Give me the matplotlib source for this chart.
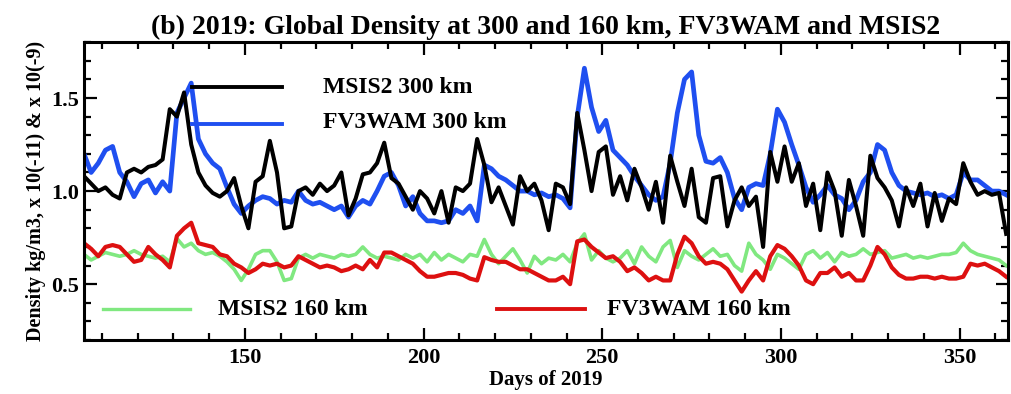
import numpy as np
import matplotlib
matplotlib.use('Agg')
import matplotlib.pyplot as plt
from matplotlib.ticker import MultipleLocator

# days sampled every 2 days
days = list(range(105, 364, 2))

msis_300 = [1.08, 1.04, 1.00, 1.02, 0.98, 0.96, 1.10, 1.12, 1.10, 1.13,
            1.14, 1.17, 1.44, 1.40, 1.53, 1.25, 1.10, 1.03, 0.99, 0.97,
            1.00, 1.07, 0.92, 0.80, 1.05, 1.08, 1.27, 1.10, 0.80, 0.81,
            1.00, 1.02, 0.98, 1.04, 1.00, 1.03, 1.10, 0.87, 0.96, 1.09,
            1.10, 1.15, 1.26, 1.07, 1.04, 0.97, 0.90, 1.00, 0.96, 0.88,
            1.00, 0.83, 1.02, 1.00, 1.04, 1.28, 1.14, 0.94, 1.02, 0.92,
            0.82, 1.08, 1.00, 1.04, 0.95, 0.79, 1.04, 1.02, 0.93, 1.42,
            1.22, 1.00, 1.21, 1.24, 0.98, 1.08, 0.95, 1.12, 1.02, 0.90,
            1.05, 0.83, 1.19, 1.05, 0.92, 1.12, 0.86, 0.83, 1.07, 1.08,
            0.81, 0.95, 1.02, 0.92, 0.97, 0.70, 1.21, 1.05, 1.24, 1.05,
            1.15, 0.92, 1.04, 0.79, 1.10, 1.00, 0.76, 1.06, 0.92, 0.76,
            1.19, 1.07, 1.02, 0.95, 0.81, 1.02, 0.92, 1.04, 0.81, 0.99,
            0.84, 0.96, 0.93, 1.15, 1.05, 0.98, 1.00, 0.98, 0.99, 0.77]

fv3_300 = [1.20, 1.10, 1.15, 1.22, 1.24, 1.10, 1.05, 0.97, 1.04, 1.06,
           0.99, 1.05, 1.00, 1.42, 1.50, 1.58, 1.28, 1.20, 1.15, 1.12,
           1.02, 0.93, 0.88, 0.92, 0.95, 0.97, 0.96, 0.93, 0.95, 0.94,
           1.00, 0.95, 0.93, 0.94, 0.92, 0.90, 0.92, 0.86, 0.92, 0.95,
           0.93, 1.00, 1.08, 1.10, 1.03, 0.92, 0.97, 0.88, 0.84, 0.84,
           0.83, 0.84, 0.90, 0.88, 0.92, 0.84, 1.14, 1.12, 1.08, 1.06,
           1.03, 1.00, 1.00, 0.98, 0.99, 0.97, 0.98, 0.96, 0.91, 1.40,
           1.66, 1.45, 1.32, 1.38, 1.22, 1.18, 1.14, 1.08, 1.03, 0.98,
           0.95, 0.97, 1.15, 1.42, 1.60, 1.64, 1.30, 1.16, 1.15, 1.18,
           1.10, 0.96, 0.90, 1.02, 1.04, 1.03, 1.20, 1.44, 1.37, 1.25,
           1.14, 1.02, 0.94, 0.98, 1.03, 0.98, 0.96, 0.90, 0.95, 1.05,
           1.10, 1.25, 1.22, 1.10, 1.03, 1.00, 0.99, 0.98, 0.99, 0.97,
           0.98, 0.96, 0.98, 1.10, 1.06, 1.06, 1.03, 1.00, 1.00, 0.98]

msis_160 = [0.66, 0.63, 0.65, 0.67, 0.66, 0.65, 0.66, 0.68, 0.66, 0.65,
            0.64, 0.65, 0.62, 0.745, 0.70, 0.72, 0.68, 0.66, 0.67, 0.65,
            0.62, 0.58, 0.52, 0.58, 0.66, 0.68, 0.68, 0.62, 0.52, 0.53,
            0.64, 0.66, 0.64, 0.66, 0.65, 0.64, 0.66, 0.65, 0.66, 0.70,
            0.66, 0.64, 0.65, 0.64, 0.63, 0.66, 0.64, 0.66, 0.62, 0.67,
            0.63, 0.66, 0.64, 0.62, 0.66, 0.65, 0.74, 0.66, 0.61, 0.65,
            0.69, 0.63, 0.56, 0.65, 0.61, 0.64, 0.63, 0.66, 0.62, 0.72,
            0.77, 0.63, 0.68, 0.64, 0.62, 0.64, 0.68, 0.61, 0.70, 0.65,
            0.62, 0.70, 0.735, 0.59, 0.68, 0.65, 0.63, 0.66, 0.69, 0.65,
            0.66, 0.60, 0.57, 0.72, 0.66, 0.63, 0.58, 0.66, 0.64, 0.61,
            0.58, 0.66, 0.68, 0.64, 0.67, 0.62, 0.67, 0.65, 0.66, 0.69,
            0.66, 0.67, 0.68, 0.64, 0.65, 0.66, 0.64, 0.65, 0.64, 0.65,
            0.66, 0.66, 0.67, 0.72, 0.68, 0.66, 0.65, 0.64, 0.63, 0.60]

fv3_160 = [0.72, 0.69, 0.65, 0.70, 0.71, 0.70, 0.66, 0.62, 0.63, 0.70,
           0.66, 0.63, 0.59, 0.76, 0.80, 0.83, 0.72, 0.71, 0.70, 0.66,
           0.65, 0.61, 0.59, 0.56, 0.58, 0.61, 0.60, 0.61, 0.59, 0.60,
           0.65, 0.63, 0.61, 0.59, 0.60, 0.59, 0.57, 0.58, 0.60, 0.58,
           0.63, 0.59, 0.67, 0.67, 0.65, 0.63, 0.61, 0.57, 0.54, 0.54,
           0.55, 0.56, 0.56, 0.55, 0.53, 0.52, 0.645, 0.63, 0.62, 0.62,
           0.60, 0.58, 0.58, 0.56, 0.54, 0.52, 0.52, 0.54, 0.50, 0.73,
           0.74, 0.70, 0.67, 0.64, 0.65, 0.62, 0.57, 0.59, 0.56, 0.52,
           0.54, 0.52, 0.52, 0.66, 0.755, 0.72, 0.65, 0.61, 0.62, 0.61,
           0.58, 0.52, 0.46, 0.52, 0.57, 0.52, 0.65, 0.71, 0.69, 0.65,
           0.60, 0.52, 0.50, 0.56, 0.56, 0.59, 0.54, 0.56, 0.52, 0.52,
           0.60, 0.70, 0.66, 0.59, 0.55, 0.53, 0.53, 0.54, 0.54, 0.53,
           0.54, 0.53, 0.53, 0.54, 0.61, 0.60, 0.61, 0.59, 0.57, 0.54]

plt.rcParams['font.family'] = ['Liberation Serif', 'DejaVu Serif']
plt.rcParams['font.weight'] = 'bold'

GREEN = '#80e880'
RED = '#dd1010'
BLUE = '#1f4ff0'

fig = plt.figure(figsize=(10.12, 3.94), dpi=100)
ax = fig.add_axes([0.083, 0.137, 0.913, 0.756])

ax.plot(days, msis_160, color=GREEN, lw=2.6)
ax.plot(days, fv3_160, color=RED, lw=3.0)
ax.plot(days, fv3_300, color=BLUE, lw=3.4)
ax.plot(days, msis_300, color='black', lw=2.9)

# legend-style labels inside the axes
ax.plot([0.117, 0.214], [0.849, 0.849], color='black', lw=2.8, transform=ax.transAxes)
ax.text(0.259, 0.849, 'MSIS2 300 km', transform=ax.transAxes, va='center', fontsize=17, fontweight='bold')
ax.plot([0.117, 0.214], [0.725, 0.725], color=BLUE, lw=2.8, transform=ax.transAxes)
ax.text(0.259, 0.73, 'FV3WAM 300 km', transform=ax.transAxes, va='center', fontsize=17, fontweight='bold')
ax.plot([0.021, 0.115], [0.104, 0.104], color=GREEN, lw=2.4, transform=ax.transAxes)
ax.text(0.145, 0.104, 'MSIS2 160 km', transform=ax.transAxes, va='center', fontsize=17, fontweight='bold')
ax.plot([0.447, 0.542], [0.104, 0.104], color=RED, lw=2.8, transform=ax.transAxes)
ax.text(0.566, 0.104, 'FV3WAM 160 km', transform=ax.transAxes, va='center', fontsize=17, fontweight='bold')

ax.set_xlim(105, 363.5)
ax.set_ylim(0.2, 1.8)
ax.xaxis.set_major_locator(MultipleLocator(50))
ax.xaxis.set_minor_locator(MultipleLocator(10))
ax.yaxis.set_major_locator(MultipleLocator(0.5))
ax.yaxis.set_minor_locator(MultipleLocator(0.1))
ax.tick_params(which='both', direction='in', top=True, right=True, labelsize=16)
ax.tick_params(which='major', length=9, width=1.6)
ax.tick_params(which='minor', length=5, width=1.6)
ax.tick_params(axis='x', pad=6)
for sp in ax.spines.values():
    sp.set_linewidth(2.2)

ax.set_title('(b) 2019: Global Density at 300 and 160 km, FV3WAM and MSIS2', fontsize=20, fontweight='bold', pad=6)
ax.set_xlabel('Days of 2019', fontsize=15, fontweight='bold', labelpad=1)
ax.set_ylabel('Density kg/m3, x 10(-11) & x 10(-9)', fontsize=14.5, fontweight='bold', labelpad=4)

fig.savefig('out.png', dpi=100)
